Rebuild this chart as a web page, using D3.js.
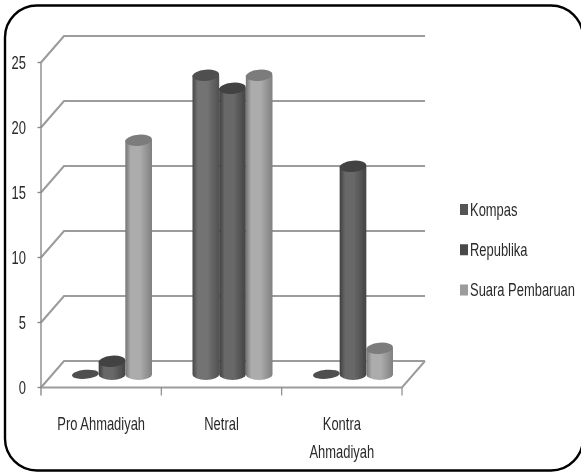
<!DOCTYPE html>
<html><head><meta charset="utf-8">
<script src="https://cdnjs.cloudflare.com/ajax/libs/d3/7.8.5/d3.min.js"></script>
<style>html,body{margin:0;padding:0;background:#fff;overflow:hidden}svg{display:block}
text{font-family:"Liberation Sans",sans-serif;fill:#2a2a2a}</style>
</head><body><svg id="c" width="581" height="472"></svg>
<script>
const categories=["Pro Ahmadiyah","Netral","Kontra Ahmadiyah"];
const seriesNames=["Kompas","Republika","Suara Pembaruan"];
const kompas=[0,23,0];
const republika=[1,22,16];
const suara=[18,23,2];
const tickValues=[0,5,10,15,20,25];
const seriesValues=[kompas,republika,suara];
const seriesColors=[["#484848","#737373","#505050","#505050"],["#3e3e3e","#676767","#444444","#424242"],["#747474","#acacac","#808080","#7c7c7c"]];
const legendColors=["#555","#4a4a4a","#9c9c9c"];

const svg=d3.select("#c");
const defs=svg.append("defs");
const soft=defs.append("filter").attr("id","soft").attr("x","-5%").attr("y","-5%").attr("width","110%").attr("height","110%");
soft.append("feGaussianBlur").attr("stdDeviation",0.55);
seriesColors.forEach((c,i)=>{
  const g=defs.append("linearGradient").attr("id","g"+i);
  [[0,c[0]],[.2,c[1]],[.55,c[1]],[1,c[2]]].forEach(s=>g.append("stop").attr("offset",s[0]).attr("stop-color",s[1]));
});
svg.append("rect").attr("x",5).attr("y",5.5).attr("width",578).attr("height",465).attr("rx",32).attr("fill","#fff").attr("stroke","#000").attr("stroke-width",2.4);

const plot=svg.append("g").attr("filter","url(#soft)");
const y=d3.scaleLinear().domain([0,25]).range([387.5,62.5]);
const x=d3.scaleBand().domain(categories).range([41,402]);
const depthX=23,depthY=26.5;
const grid="#9c9c9c";
tickValues.forEach(v=>{
  plot.append("path").attr("fill","none").attr("stroke",grid).attr("stroke-width",2.1)
    .attr("d",d3.line()([[x.range()[0],y(v)],[41+depthX,y(v)-depthY],[425,y(v)-depthY]]));
});
plot.append("path").attr("fill","none").attr("stroke",grid).attr("stroke-width",2)
  .attr("d",d3.line()([[41,y(0)],[402,y(0)],[425,y(0)-depthY]]));
plot.append("line").attr("x1",41).attr("x2",41).attr("y1",y(25)).attr("y2",y(0)+8).attr("stroke","#8a8a8a").attr("stroke-width",1.4);
tickValues.forEach(v=>plot.append("line").attr("x1",37.5).attr("x2",41).attr("y1",y(v)).attr("y2",y(v)).attr("stroke","#8a8a8a").attr("stroke-width",1.4));
[...categories.map(c=>x(c)).slice(1),402].forEach(px=>plot.append("line").attr("x1",px).attr("x2",px).attr("y1",y(0)).attr("y2",y(0)+8).attr("stroke","#8a8a8a").attr("stroke-width",1.2));

const inner=d3.scaleBand().domain(seriesNames).range([0,80]);
const rx=inner.bandwidth()/2, ry=5.6;
const unit=y(0)-y(1);
const baseY=374.3;
const catLeft=[72,192.5,313];
categories.forEach((c,ci)=>{
  seriesNames.forEach((s,si)=>{
    const v=seriesValues[si][ci];
    const cx=catLeft[ci]+inner(s)+rx;
    const top=baseY-v*unit;
    const col=seriesColors[si];
    if(v>0){
      plot.append("path").attr("fill",`url(#g${si})`)
       .attr("d",`M${cx-rx},${top}L${cx-rx},${baseY}A${rx},${ry} 0 0 0 ${cx+rx},${baseY}L${cx+rx},${top}Z`);
    }
    plot.append("ellipse").attr("cx",cx).attr("cy",top).attr("rx",rx).attr("ry",v>0?ry:4.5).attr("fill",col[3])
      .attr("transform",`rotate(-5 ${cx} ${top})`);
  });
});

const text=svg.append("g").attr("filter","url(#soft)");
function put(str,px,py,size,anchor,sx){
  return text.append("text").attr("transform",`translate(${px},${py}) scale(${sx},1)`).attr("text-anchor",anchor).attr("font-size",size).text(str);
}
tickValues.forEach(v=>put(v,26,y(v)+6,18,"end",.72));
const labelLines=[["Pro Ahmadiyah"],["Netral"],["Kontra","Ahmadiyah"]];
categories.forEach((c,i)=>labelLines[i].forEach((t,j)=>{
  put(t,x(c)+x.bandwidth()/2,430+j*28,17.5,"middle",.74);
}));
const legendY=d3.scalePoint().domain(seriesNames).range([209.5,290]);
seriesNames.forEach((s,i)=>{
  text.append("rect").attr("x",460).attr("y",legendY(s)-5.5).attr("width",8).attr("height",11).attr("fill",legendColors[i]);
  put(s,470,legendY(s)+6,17.5,"start",.74);
});
</script></body></html>
